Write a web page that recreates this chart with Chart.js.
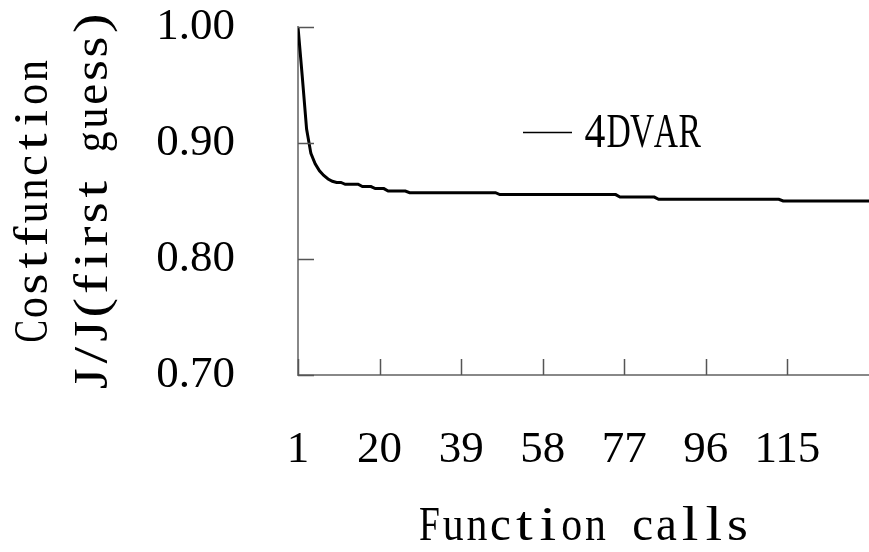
<!DOCTYPE html>
<html>
<head>
<meta charset="utf-8">
<script src="https://cdn.jsdelivr.net/npm/chart.js@4"></script>
<style>
  html, body { margin: 0; padding: 0; background: #fff; }
  #wrap { width: 869px; height: 552px; }
</style>
</head>
<body>
<div id="wrap"><canvas id="chart"></canvas></div>
<script>
// data
const seriesName = '4DVAR';
const calls = [1, 2, 3, 4, 5, 6, 7, 8, 9, 10, 11, 12, 15, 16, 18, 19, 21, 22, 26, 27, 47, 48, 75, 76, 84, 85, 113, 114, 134];
const cost = [1.000, 0.957, 0.912, 0.891, 0.882, 0.876, 0.872, 0.869, 0.867, 0.866, 0.866, 0.8644, 0.8644, 0.8624, 0.8624, 0.8607, 0.8607, 0.8586, 0.8586, 0.8572, 0.8572, 0.8555, 0.8555, 0.8534, 0.8534, 0.8515, 0.8515, 0.8500, 0.8500];
const xTicks = [1, 20, 39, 58, 77, 96, 115];
const yTicks = [0.70, 0.80, 0.90, 1.00];
const xTitle = 'Function calls';
const yTitle = ['Costfunction', 'J/J(first guess)'];

const ctx = document.getElementById('chart');
const textFont = '48px "Liberation Serif"';
const advance = 23.7;

// the original uses a narrow serif monospace; draw each glyph in a fixed cell
function drawMono(c, text, x, y, align) {
  c.save();
  c.font = textFont;
  c.fillStyle = '#000';
  c.textAlign = 'center';
  c.textBaseline = 'alphabetic';
  const start = align === 'center' ? x - text.length * advance / 2 : x;
  [...text].forEach((ch, i) => {
    const w = c.measureText(ch).width;
    let s = w > 0 ? advance * 0.88 / w : 1;
    s = Math.max(0.7, Math.min(1.25, s));
    c.save();
    c.translate(start + (i + 0.5) * advance, y);
    c.scale(s, 1);
    c.fillText(ch, 0, 0);
    c.restore();
  });
  c.restore();
}

const decorations = {
  id: 'decorations',
  afterDraw(chart) {
    const c = chart.ctx;
    const x = chart.scales.x, y = chart.scales.y;
    const area = chart.chartArea;

    // inner tick marks
    c.save();
    c.strokeStyle = '#555';
    c.lineWidth = 1.5;
    c.beginPath();
    xTicks.forEach(v => {
      const px = Math.round(x.getPixelForValue(v)) + 0.5;
      c.moveTo(px, area.bottom);
      c.lineTo(px, area.bottom - 16);
    });
    yTicks.forEach(v => {
      const py = Math.round(y.getPixelForValue(v)) + 0.5;
      c.moveTo(area.left, py);
      c.lineTo(area.left + 16, py);
    });
    c.stroke();
    c.restore();

    // axis titles
    drawMono(c, xTitle, (area.left + area.right) / 2, 540, 'center');
    const midY = (area.top + area.bottom) / 2;
    [47, 107].forEach((bx, i) => {
      c.save();
      c.translate(bx, midY);
      c.rotate(-Math.PI / 2);
      drawMono(c, yTitle[i], 0, 0, 'center');
      c.restore();
    });

    // legend inside the plot
    c.save();
    c.strokeStyle = '#000';
    c.lineWidth = 1.5;
    c.beginPath();
    c.moveTo(523, 132.5);
    c.lineTo(572, 132.5);
    c.stroke();
    c.restore();
    drawMono(c, chart.data.datasets[0].label, 583, 147, 'left');
  }
};

new Chart(ctx, {
  type: 'line',
  data: {
    datasets: [{
      label: seriesName,
      data: calls.map((v, i) => ({ x: v, y: cost[i] })),
      borderColor: '#000',
      borderWidth: 3,
      pointRadius: 0,
      tension: 0,
      fill: false
    }]
  },
  options: {
    responsive: true,
    maintainAspectRatio: false,
    animation: false,
    layout: { padding: { top: 27, right: 0, left: 0, bottom: 0 } },
    plugins: {
      legend: { display: false },
      tooltip: { enabled: false }
    },
    scales: {
      x: {
        type: 'linear',
        min: 1,
        max: 134,
        afterBuildTicks: s => { s.ticks = xTicks.map(v => ({ value: v })); },
        afterFit: s => { s.height = 177; s.paddingLeft = 0; s.paddingRight = 0; },
        grid: { display: false, drawTicks: false },
        border: { display: true, color: '#888', width: 2 },
        ticks: {
          color: '#000',
          padding: 48,
          maxRotation: 0,
          autoSkip: false,
          font: { family: '"Liberation Serif"', size: 45 },
          callback: v => String(v)
        }
      },
      y: {
        min: 0.70,
        max: 1.00,
        afterBuildTicks: s => { s.ticks = yTicks.map(v => ({ value: v })); },
        afterFit: s => { s.width = 298; s.paddingTop = 0; s.paddingBottom = 0; },
        grid: { display: false, drawTicks: false },
        border: { display: true, color: '#888', width: 2 },
        ticks: {
          color: '#000',
          padding: 63,
          font: { family: '"Liberation Serif"', size: 45 },
          callback: v => Number(v).toFixed(2)
        }
      }
    }
  },
  plugins: [decorations]
});
</script>
</body>
</html>
